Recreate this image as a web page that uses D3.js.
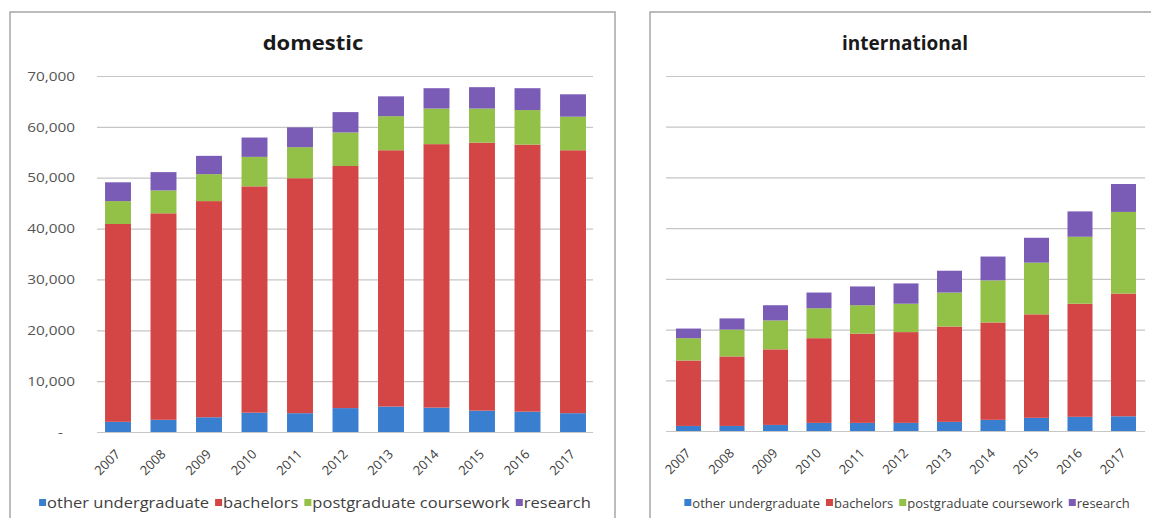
<!DOCTYPE html>
<html>
<head>
<meta charset="utf-8">
<script src="https://cdn.jsdelivr.net/npm/d3@7"></script>
<style>
  body { margin: 0; background: #fff; }
  svg { display: block; font-family: "Open Sans", sans-serif; }
  .grid line { stroke: #c6c6c6; stroke-width: 1.2px; }
  .tick text { fill: #555; }
  .xlab .tick text { fill: #3c3c3c; }
</style>
</head>
<body>
<svg width="1151" height="518"></svg>
<script>
// categories
const years = ["2007", "2008", "2009", "2010", "2011", "2012", "2013", "2014", "2015", "2016", "2017"];
const seriesNames = ["other undergraduate", "bachelors", "postgraduate coursework", "research"];
const yTicks = [0, 10000, 20000, 30000, 40000, 50000, 60000, 70000];

// domestic students
const domOtherUg   = [2000, 2400, 2900, 3800, 3700, 4700, 5000, 4800, 4200, 4000, 3700];
const domBachelors = [38900, 40600, 42500, 44500, 46200, 47600, 50400, 51800, 52700, 52500, 51700];
const domPostgrad  = [4500, 4500, 5300, 5800, 6100, 6600, 6700, 7000, 6700, 6800, 6600];
const domResearch  = [3700, 3600, 3600, 3800, 3900, 4000, 3900, 4000, 4200, 4300, 4400];

// international students
const intOtherUg   = [1000, 1000, 1200, 1600, 1600, 1600, 1800, 2200, 2600, 2800, 2900];
const intBachelors = [12900, 13700, 14900, 16700, 17600, 17900, 18800, 19200, 20400, 22300, 24200];
const intPostgrad  = [4400, 5300, 5700, 5900, 5600, 5600, 6700, 8300, 10200, 13200, 16100];
const intResearch  = [1900, 2200, 3000, 3100, 3700, 4000, 4300, 4700, 4900, 5000, 5500];

const colors = ["#3a7ed0", "#d44545", "#93c047", "#7a5cb6"];

const svg = d3.select("svg");
const color = d3.scaleOrdinal().domain(seriesNames).range(colors);

function toRows(a, b, c, d) {
    return years.map(function (yr, i) {
        const row = {year: yr};
        row[seriesNames[0]] = a[i];
        row[seriesNames[1]] = b[i];
        row[seriesNames[2]] = c[i];
        row[seriesNames[3]] = d[i];
        return row;
    });
}

function panel(opts) {
    const rows = opts.rows;
    const sx = opts.textScale;

    // frame
    svg.append("rect")
        .attr("x", opts.frame[0]).attr("y", opts.frame[1])
        .attr("width", opts.frame[2]).attr("height", opts.frame[3])
        .attr("fill", "none")
        .attr("stroke", "#a6a6a6")
        .attr("stroke-width", 1.5);

    const x = d3.scaleBand()
        .domain(years)
        .range(opts.xRange)
        .paddingInner(opts.pad)
        .paddingOuter(opts.pad / 2);

    const y = d3.scaleLinear()
        .domain([0, 70000])
        .range([opts.base, 76]);

    const g = svg.append("g");

    // horizontal grid lines
    g.append("g")
        .attr("class", "grid")
        .attr("transform", "translate(" + opts.gridX[0] + ",0)")
        .call(d3.axisLeft(y).tickValues(yTicks).tickSize(-(opts.gridX[1] - opts.gridX[0])).tickFormat(""))
        .call(function (s) { s.select(".domain").remove(); });

    // y labels (domestic only)
    if (opts.yLabels) {
        const fmt = d3.format(",");
        const ya = g.append("g")
            .attr("transform", "translate(" + opts.gridX[0] + ",0)")
            .call(d3.axisLeft(y).tickValues(yTicks).tickSize(0)
                .tickFormat(function (d) { return d === 0 ? "-" : fmt(d); }));
        ya.select(".domain").remove();
        ya.selectAll("text")
            .attr("font-family", "Open Sans")
            .attr("font-size", 13)
            .attr("x", function (d) { return (d === 0 ? -34 : -22) / sx; })
            .attr("transform", "scale(" + sx + ",1)");
    }

    // stacked bars
    const stacked = d3.stack().keys(seriesNames)(rows);
    g.selectAll(".series")
        .data(stacked)
        .enter().append("g")
        .attr("class", "series")
        .attr("fill", function (d) { return color(d.key); })
        .selectAll("rect")
        .data(function (d) { return d; })
        .enter().append("rect")
        .attr("x", function (d) { return x(d.data.year); })
        .attr("y", function (d) { return y(d[1]); })
        .attr("height", function (d) { return y(d[0]) - y(d[1]); })
        .attr("width", x.bandwidth());

    // year labels
    const xa = g.append("g")
        .attr("class", "xlab")
        .attr("transform", "translate(0," + opts.base + ")")
        .call(d3.axisBottom(x).tickSize(0));
    xa.select(".domain").remove();
    xa.selectAll("text")
        .attr("font-family", "Open Sans")
        .attr("font-size", 13)
        .attr("text-anchor", "end")
        .attr("y", 0)
        .attr("dy", 0)
        .attr("transform", "translate(3,23) rotate(-45)");

    // title
    svg.append("text")
        .attr("x", opts.titleX)
        .attr("y", 50)
        .attr("text-anchor", "middle")
        .attr("font-weight", "bold")
        .attr("font-size", opts.titleSize)
        .attr("fill", "#1a1a1a")
        .attr("transform", "translate(" + opts.titleX + ",0) scale(" + opts.titleScale + ",1) translate(" + (-opts.titleX) + ",0)")
        .text(opts.title);

    // legend
    const lg = svg.append("g");
    const items = lg.selectAll("g")
        .data(seriesNames)
        .enter().append("g");
    items.append("rect")
        .attr("width", 7).attr("height", 7)
        .attr("y", -4)
        .attr("fill", function (d) { return color(d); });
    const labels = items.append("text")
        .attr("x", 8 / sx)
        .attr("y", 4.5)
        .attr("font-size", opts.legendSize)
        .attr("fill", "#3f3f3f")
        .attr("transform", "scale(" + sx + ",1)")
        .text(function (d) { return d; });
    let cursor = 0;
    const widths = [];
    labels.each(function () { widths.push(this.getComputedTextLength() * sx); });
    items.attr("transform", function (d, i) {
        const t = "translate(" + cursor + ",0)";
        cursor += 8 + widths[i] + 6;
        return t;
    });
    const total = cursor - 6;
    lg.attr("transform", "translate(" + (opts.legendCenter - total / 2) + ",503)");
}

panel({
    rows: toRows(domOtherUg, domBachelors, domPostgrad, domResearch),
    frame: [10, 12, 605, 530],
    xRange: [95.25, 595.75],
    pad: 0.43,
    base: 432,
    gridX: [97, 593],
    yLabels: true,
    textScale: 1.18,
    title: "domestic",
    titleX: 313,
    titleSize: 20,
    titleScale: 1.1,
    legendSize: 14,
    legendCenter: 315
});

panel({
    rows: toRows(intOtherUg, intBachelors, intPostgrad, intResearch),
    frame: [650, 12, 530, 530],
    xRange: [666.75, 1145.25],
    pad: 0.425,
    base: 431,
    gridX: [666, 1145],
    yLabels: false,
    textScale: 1.0,
    title: "international",
    titleX: 905,
    titleSize: 19,
    titleScale: 1.0,
    legendSize: 13,
    legendCenter: 907
});
</script>
</body>
</html>
